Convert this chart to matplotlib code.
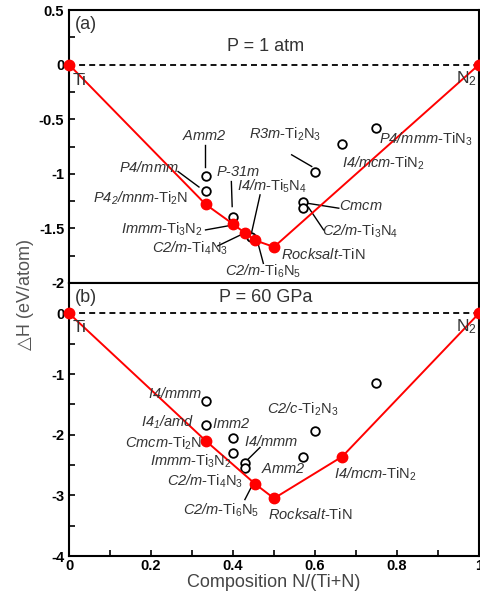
import matplotlib
matplotlib.use('Agg')
import matplotlib.pyplot as plt
from matplotlib.ticker import MultipleLocator, FixedLocator

plt.rcParams['font.family'] = ['Liberation Sans', 'DejaVu Sans']
plt.rcParams['mathtext.fontset'] = 'custom'
plt.rcParams['mathtext.rm'] = 'Liberation Sans'
plt.rcParams['mathtext.it'] = 'Liberation Sans:italic'
plt.rcParams['mathtext.sf'] = 'Liberation Sans:italic'
plt.rcParams['mathtext.bf'] = 'Liberation Sans:bold'

# ---------------- data ----------------
# (a) P = 1 atm
hull_x_a = [0, 1/3, 2/5, 3/7, 5/11, 1/2, 1]
hull_y_a = [0, -1.28, -1.46, -1.54, -1.61, -1.67, 0]
open_x_a = [1/3, 1/3, 2/5, 4/9, 3/5, 4/7, 4/7, 2/3, 3/4]
open_y_a = [-1.02, -1.16, -1.40, -1.58, -0.98, -1.26, -1.31, -0.725, -0.58]

# (b) P = 60 GPa
hull_x_b = [0, 1/3, 5/11, 1/2, 2/3, 1]
hull_y_b = [0, -2.10, -2.815, -3.05, -2.36, 0]
open_x_b = [1/3, 1/3, 2/5, 2/5, 3/7, 3/7, 3/5, 4/7, 3/4]
open_y_b = [-1.45, -1.846, -2.055, -2.31, -2.47, -2.55, -1.945, -2.36, -1.145]

# labels: (text, x, y, ha)
labels_a = [
    (r"$\mathsf{Amm2}$", 0.331, -0.651, 'center'),
    (r"$\mathsf{P4/mmm}$", 0.196, -0.942, 'center'),
    (r"$\mathsf{P4_2/mnm}$-Ti$_2$N", 0.291, -1.22, 'right'),
    (r"$\mathsf{P}$-$\mathsf{31m}$", 0.4125, -0.979, 'center'),
    (r"$\mathsf{I4/m}$-Ti$_5$N$_4$", 0.494, -1.117, 'center'),
    (r"$\mathsf{Immm}$-Ti$_3$N$_2$", 0.327, -1.507, 'right'),
    (r"$\mathsf{C2/m}$-Ti$_4$N$_3$", 0.389, -1.68, 'right'),
    (r"$\mathsf{C2/m}$-Ti$_6$N$_5$", 0.474, -1.896, 'center'),
    (r"$\mathsf{Rocksalt}$-TiN", 0.621, -1.743, 'center'),
    (r"$\mathsf{Cmcm}$", 0.711, -1.294, 'center'),
    (r"$\mathsf{C2/m}$-Ti$_3$N$_4$", 0.711, -1.529, 'center'),
    (r"$\mathsf{R3m}$-Ti$_2$N$_3$", 0.527, -0.642, 'center'),
    (r"$\mathsf{I4/mcm}$-TiN$_2$", 0.768, -0.902, 'center'),
    (r"$\mathsf{P4/mmm}$-TiN$_3$", 0.870, -0.688, 'center'),
]
leaders_a = [
    ((0.331, -0.734), (0.331, -0.936)),
    ((0.266, -0.979), (0.317, -1.121)),
    ((0.396, -1.071), (0.398, -1.300)),
    ((0.466, -1.193), (0.445, -1.544)),
    ((0.333, -1.514), (0.392, -1.474)),
    ((0.363, -1.66), (0.424, -1.55)),
    ((0.474, -1.82), (0.462, -1.651)),
    ((0.580, -1.269), (0.658, -1.315)),
    ((0.584, -1.307), (0.621, -1.514)),
    ((0.543, -0.826), (0.592, -0.933)),
]

labels_b = [
    (r"$\mathsf{I4/mmm}$", 0.324, -1.32, 'right'),
    (r"$\mathsf{I4_1/amd}$", 0.306, -1.797, 'right'),
    (r"$\mathsf{Imm2}$", 0.395, -1.818, 'center'),
    (r"$\mathsf{Cmcm}$-Ti$_2$N", 0.324, -2.149, 'right'),
    (r"$\mathsf{I4/mmm}$", 0.494, -2.11, 'center'),
    (r"$\mathsf{Immm}$-Ti$_3$N$_2$", 0.397, -2.44, 'right'),
    (r"$\mathsf{Amm2}$", 0.522, -2.56, 'center'),
    (r"$\mathsf{C2/m}$-Ti$_4$N$_3$", 0.424, -2.77, 'right'),
    (r"$\mathsf{C2/m}$-Ti$_6$N$_5$", 0.372, -3.24, 'center'),
    (r"$\mathsf{Rocksalt}$-TiN", 0.588, -3.32, 'center'),
    (r"$\mathsf{I4/mcm}$-TiN$_2$", 0.748, -2.66, 'center'),
    (r"$\mathsf{C2/c}$-Ti$_2$N$_3$", 0.571, -1.587, 'center'),
]
leaders_b = [
    ((0.466, -2.21), (0.433, -2.43)),
    ((0.429, -3.07), (0.445, -2.86)),
]

panels = [
    dict(tag="(a)", title="P = 1 atm", hx=hull_x_a, hy=hull_y_a, ox=open_x_a, oy=open_y_a,
         labels=labels_a, leaders=leaders_a, ylim=(-2, 0.5),
         yticks=[0.5, 0, -0.5, -1, -1.5, -2], yminor=0.25,
         tag_y=0.367, title_y=0.168, ti_y=-0.15, n2_y=-0.13),
    dict(tag="(b)", title="P = 60 GPa", hx=hull_x_b, hy=hull_y_b, ox=open_x_b, oy=open_y_b,
         labels=labels_b, leaders=leaders_b, ylim=(-4, 0.5),
         yticks=[0, -1, -2, -3, -4], yminor=0.5,
         tag_y=0.264, title_y=0.264, ti_y=-0.24, n2_y=-0.22),
]

xticks = [0, 0.2, 0.4, 0.6, 0.8, 1]
xtick_labels = ['0', '0.2', '0.4', '0.6', '0.8', '1']

# ---------------- figure ----------------
fig = plt.figure(figsize=(4.81, 6.02), dpi=100)
left, right = 69 / 481, 479 / 481
y_top, y_mid, y_bot = 1 - 10 / 602, 1 - 283 / 602, 1 - 556 / 602
ax_a = fig.add_axes([left, y_mid, right - left, y_top - y_mid])
ax_b = fig.add_axes([left, y_bot, right - left, y_mid - y_bot])

txt_color = '#333333'
for ax, p in zip([ax_a, ax_b], panels):
    ax.set_xlim(0, 1)
    ax.set_ylim(*p['ylim'])
    ax.axhline(0, color='black', lw=1.3, ls=(0, (3.3, 2.3)), zorder=1)
    ax.plot(p['hx'], p['hy'], color='#ff0000', lw=1.4, marker='o', ms=7.5,
            mfc='#ff0000', mec='#ff0000', clip_on=False, zorder=4)
    ax.plot(p['ox'], p['oy'], ls='none', marker='o', ms=6.2, mfc='white',
            mec='black', mew=1.3, zorder=3)
    for (x1, y1), (x2, y2) in p['leaders']:
        ax.plot([x1, x2], [y1, y2], color='black', lw=1.0, zorder=2)
    for t, x, y, ha in p['labels']:
        ax.text(x, y, t, ha=ha, va='center', fontsize=10.5, color=txt_color, zorder=5)
    ax.text(0.041, p['tag_y'], p['tag'], ha='center', va='center', fontsize=13, color=txt_color)
    ax.text(0.48, p['title_y'], p['title'], ha='center', va='center', fontsize=13, color=txt_color)
    ax.text(0.01, p['ti_y'], 'Ti', ha='left', va='center', fontsize=12.5, color=txt_color, zorder=6)
    ax.text(0.944, p['n2_y'], r'N$_2$', ha='left', va='center', fontsize=12.5, color=txt_color, zorder=6)
    ax.yaxis.set_major_locator(FixedLocator(p['yticks']))
    ax.set_yticklabels([('%g' % v) for v in p['yticks']], fontweight='bold', fontsize=10.5)
    ax.yaxis.set_minor_locator(MultipleLocator(p['yminor']))
    ax.tick_params(axis='y', which='major', direction='in', length=4, width=1.2, right=False)
    ax.tick_params(axis='y', which='minor', direction='in', length=4, width=1.2, right=False)
    for s in ax.spines.values():
        s.set_linewidth(1.5)

ax_a.tick_params(axis='x', which='both', bottom=False, labelbottom=False)
ax_b.set_xticks(xticks)
ax_b.set_xticklabels(xtick_labels, fontweight='bold', fontsize=10.5)
ax_b.xaxis.set_minor_locator(MultipleLocator(0.1))
ax_b.tick_params(axis='x', which='both', direction='in', length=4, width=1.2, top=False, pad=2)
ax_b.set_xlabel('Composition N/(Ti+N)', fontsize=13, color='#444444', labelpad=1)

fig.text(25 / 481, 1 - 295 / 602, '△H (eV/atom)', rotation=90, ha='center', va='center',
         fontsize=13, color='#555555')

fig.savefig('out.png', dpi=100)
